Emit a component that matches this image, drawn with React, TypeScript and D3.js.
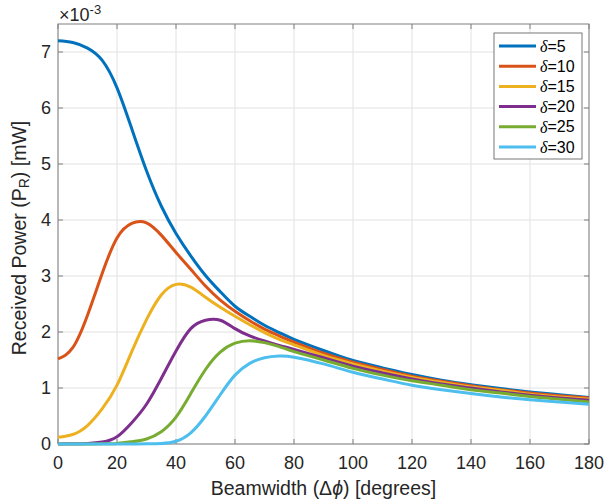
import React from "react";
import * as d3 from "d3";

const beamwidth = [0, 5, 10, 15, 20, 25, 30, 35, 40, 45, 50, 55, 60, 65, 70, 75, 80, 90, 100, 110, 120, 130, 140, 150, 160, 170, 180];

const delta5 = [7.2, 7.17, 7.07, 6.85, 6.36, 5.63, 4.88, 4.25, 3.76, 3.36, 3.01, 2.72, 2.46, 2.28, 2.12, 1.99, 1.87, 1.67, 1.49, 1.36, 1.24, 1.14, 1.06, 0.99, 0.93, 0.88, 0.83];
const delta10 = [1.52, 1.72, 2.3, 3.05, 3.68, 3.94, 3.95, 3.73, 3.42, 3.12, 2.82, 2.57, 2.37, 2.2, 2.05, 1.93, 1.82, 1.62, 1.46, 1.33, 1.21, 1.12, 1.04, 0.97, 0.91, 0.86, 0.82];
const delta15 = [0.12, 0.17, 0.33, 0.63, 1.05, 1.65, 2.22, 2.66, 2.85, 2.8, 2.62, 2.44, 2.28, 2.13, 1.99, 1.87, 1.77, 1.58, 1.43, 1.3, 1.19, 1.1, 1.02, 0.96, 0.89, 0.84, 0.8];
const delta20 = [0.0, 0.004, 0.01, 0.035, 0.13, 0.38, 0.71, 1.17, 1.66, 2.06, 2.21, 2.21, 2.06, 1.93, 1.84, 1.76, 1.69, 1.54, 1.39, 1.27, 1.16, 1.07, 1.0, 0.93, 0.87, 0.82, 0.78];
const delta25 = [0.0, 0.0, 0.0, 0.003, 0.01, 0.04, 0.09, 0.22, 0.48, 0.9, 1.33, 1.64, 1.8, 1.845, 1.81, 1.74, 1.65, 1.5, 1.35, 1.23, 1.13, 1.05, 0.97, 0.91, 0.85, 0.8, 0.75];
const delta30 = [0.0, 0.0, 0.0, 0.0, 0.0, 0.0, 0.003, 0.01, 0.05, 0.2, 0.5, 0.88, 1.23, 1.44, 1.54, 1.57, 1.55, 1.43, 1.28, 1.16, 1.05, 0.97, 0.9, 0.84, 0.79, 0.75, 0.71];

const seriesLabels = ["5", "10", "15", "20", "25", "30"];
const seriesValues = [delta5, delta10, delta15, delta20, delta25, delta30];
const seriesColors = ["#0072BD", "#D95319", "#EDB120", "#7E2F8E", "#77AC30", "#4DBEEE"];

const xTicks = [0, 20, 40, 60, 80, 100, 120, 140, 160, 180];
const yTicks = [0, 1, 2, 3, 4, 5, 6, 7];

const W = 606;
const H = 504;
const left = 58;
const right = 589;
const top = 24;
const bottom = 444;
const FONT = "'Liberation Sans', Arial, Helvetica, sans-serif";

export default function App() {
  const x = d3.scaleLinear().domain([0, 180]).range([left, right]);
  const y = d3.scaleLinear().domain([0, 7.5]).range([bottom, top]);
  const line = d3
    .line<number>()
    .x((_, i) => x(beamwidth[i]))
    .y((v) => y(v))
    .curve(d3.curveNatural);

  const tickLen = 5;
  const axisColor = "#808080";
  const textColor = "#262626";

  const legX = 494;
  const legY = 33;
  const legW = 88;
  const legH = 126;
  const rowH = 20.2;

  return (
    <svg
      width={W}
      height={H}
      style={{ position: "absolute", left: 0, top: 0, display: "block", background: "#fff" }}
    >
      <rect x={0} y={0} width={W} height={H} fill="#fff" />
      {xTicks.map((t) => (
        <line key={"gx" + t} x1={x(t)} x2={x(t)} y1={top} y2={bottom} stroke="#e2e2e2" strokeWidth={1} />
      ))}
      {yTicks.map((t) => (
        <line key={"gy" + t} x1={left} x2={right} y1={y(t)} y2={y(t)} stroke="#e2e2e2" strokeWidth={1} />
      ))}
      <rect x={left} y={top} width={right - left} height={bottom - top} fill="none" stroke={axisColor} strokeWidth={1} />
      {xTicks.map((t) => (
        <g key={"tx" + t}>
          <line x1={x(t)} x2={x(t)} y1={bottom} y2={bottom - tickLen} stroke={axisColor} />
          <line x1={x(t)} x2={x(t)} y1={top} y2={top + tickLen} stroke={axisColor} />
          <text
            x={x(t)}
            y={463}
            textAnchor="middle"
            dominantBaseline="central"
            fontFamily={FONT}
            fontSize={18}
            fill={textColor}
          >
            {t}
          </text>
        </g>
      ))}
      {yTicks.map((t) => (
        <g key={"ty" + t}>
          <line x1={left} x2={left + tickLen} y1={y(t)} y2={y(t)} stroke={axisColor} />
          <line x1={right} x2={right - tickLen} y1={y(t)} y2={y(t)} stroke={axisColor} />
          <text
            x={51}
            y={y(t)}
            textAnchor="end"
            dominantBaseline="central"
            fontFamily={FONT}
            fontSize={18}
            fill={textColor}
          >
            {t}
          </text>
        </g>
      ))}
      <g>
        {seriesValues.map((vals, i) => (
          <path
            key={"s" + i}
            d={line(vals) || ""}
            fill="none"
            stroke={seriesColors[i]}
            strokeWidth={3}
            strokeLinejoin="round"
          />
        ))}
      </g>
      <text x={59} y={21} fontFamily={FONT} fontSize={18} fill={textColor}>
        ×10
        <tspan dy={-7} fontSize={13}>
          -3
        </tspan>
      </text>
      <text
        x={(left + right) / 2}
        y={488}
        textAnchor="middle"
        dominantBaseline="central"
        fontFamily={FONT}
        fontSize={19.5}
        fill={textColor}
      >
        Beamwidth (Δ<tspan fontStyle="italic">ϕ</tspan>) [degrees]
      </text>
      <text
        transform={`translate(19, ${(top + bottom) / 2 + 4}) rotate(-90)`}
        textAnchor="middle"
        dominantBaseline="central"
        fontFamily={FONT}
        fontSize={19.5}
        fill={textColor}
      >
        Received Power (P
        <tspan fontSize={14} dy={5}>
          R
        </tspan>
        <tspan dy={-5}>) [mW]</tspan>
      </text>
      <rect x={legX} y={legY} width={legW} height={legH} fill="#fff" stroke="#555" strokeWidth={0.8} />
      {seriesLabels.map((lab, i) => {
        const cy = legY + 13 + i * rowH;
        return (
          <g key={"l" + i}>
            <line x1={499} x2={536} y1={cy} y2={cy} stroke={seriesColors[i]} strokeWidth={3} />
            <text x={540} y={cy} dominantBaseline="central" fontFamily={FONT} fontSize={16} fill="#000">
              <tspan fontFamily="'Liberation Serif', 'DejaVu Serif', serif" fontStyle="italic">
                δ
              </tspan>
              ={lab}
            </text>
          </g>
        );
      })}
    </svg>
  );
}
